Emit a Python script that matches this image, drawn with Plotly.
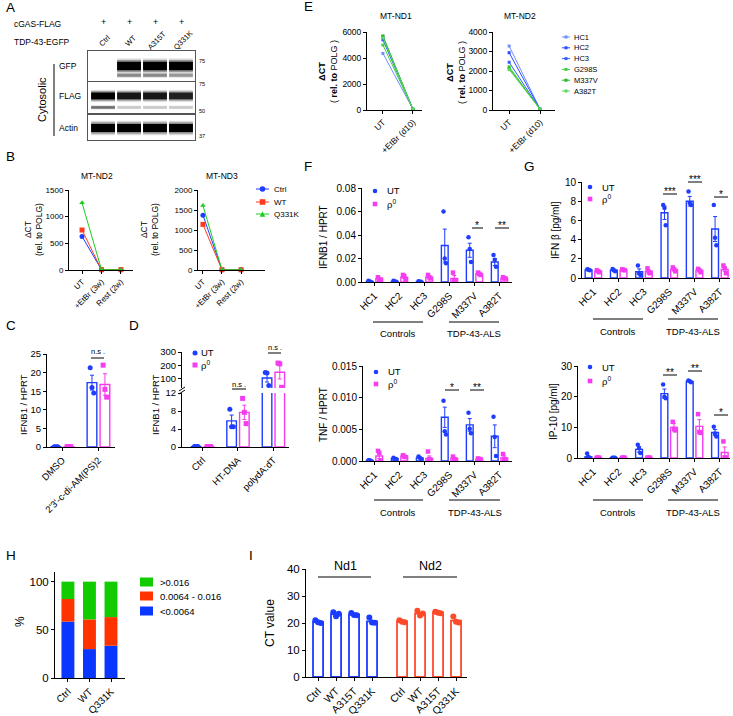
import plotly.graph_objects as go

W, H = 733, 716
FONT = "Liberation Sans"
BLUE = "#1f3dff"
MAG = "#f53cf0"
RED = "#ff3b1f"
GREEN = "#1fcc1f"

# ---------------- DATA ----------------
# A: western blot band intensities per lane
lanes = ["Ctrl", "WT", "A315T", "Q331K"]
mw_labels = ["75", "75", "50", "37"]
gfp_band = [0.0, 1.0, 1.0, 1.0]
gfp_faint = [0.0, 0.35, 0.35, 0.3]
flag_band = [1.0, 0.85, 0.85, 0.8]
flag_faint = [0.45, 0.15, 0.15, 0.15]
actin_band = [1.0, 1.0, 1.0, 1.0]

# B
b_x = ["UT", "+EtBr (3w)", "Rest (2w)"]
b_series = ["Ctrl", "WT", "Q331K"]
b_nd2 = [[630, 5, 5], [750, 5, 5], [1260, 5, 5]]
b_nd3 = [[1370, 5, 5], [1140, 5, 5], [1610, 5, 5]]

# C
c_cats = ["DMSO", "2'3'-c-di-AM(PS)2"]
c_ut_mean = [0.1, 17.3]
c_ut_sem = [0.05, 2.0]
c_ut_pts = [[0.1, 0.1, 0.1], [21.3, 16.0, 14.5]]
c_rho_mean = [0.1, 16.8]
c_rho_sem = [0.05, 2.9]
c_rho_pts = [[0.1, 0.1, 0.1], [22.0, 15.5, 13.4]]

# D
d_cats = ["Ctrl", "HT-DNA", "polydA:dT"]
d_ut_mean = [0.1, 5.8, 107]
d_ut_sem = [0.05, 1.3, 30]
d_ut_pts = [[0.1, 0.1, 0.1], [8.4, 4.5, 4.5], [148, 145, 52]]
d_rho_mean = [0.1, 7.7, 150]
d_rho_sem = [0.05, 1.6, 50]
d_rho_pts = [[0.1, 0.1, 0.1], [10.8, 7.7, 5.2], [218, 212, 38]]

# E
e_x = ["UT", "+EtBr (d10)"]
e_names = ["HC1", "HC2", "HC3", "G298S", "M337V", "A382T"]
e_nd1 = [[4350, 60], [5400, 50], [5650, 40], [5000, 60], [5700, 50], [5550, 40]]
e_nd2 = [[3280, 40], [2940, 30], [2450, 35], [2220, 40], [2140, 30], [2080, 35]]
e_colors = ["#6f8dff", "#2a4bff", "#3a5cff", "#3fcf3f", "#22b822", "#5ad85a"]

# F / G
fg_cats = ["HC1", "HC2", "HC3", "G298S", "M337V", "A382T"]
ft_ut_mean = [0.0005, 0.0006, 0.0004, 0.031, 0.027, 0.017]
ft_ut_sem = [0.0003, 0.0003, 0.0002, 0.014, 0.006, 0.003]
ft_ut_pts = [[0.001, 0.0005, 0.0], [0.001, 0.0005, 0.0003], [0.0007, 0.0003, 0.0002],
             [0.060, 0.020, 0.016], [0.038, 0.028, 0.017], [0.023, 0.019, 0.013]]
ft_rho_mean = [0.003, 0.004, 0.004, 0.003, 0.007, 0.003]
ft_rho_sem = [0.0007, 0.001, 0.001, 0.0025, 0.0006, 0.0004]
ft_rho_pts = [[0.004, 0.002, 0.002], [0.006, 0.005, 0.002], [0.006, 0.004, 0.003],
              [0.008, 0.001, 0.001], [0.008, 0.007, 0.006], [0.004, 0.003, 0.003]]

fb_ut_mean = [0.0001, 0.0004, 0.0005, 0.0069, 0.0057, 0.0039]
fb_ut_sem = [0.00005, 0.0001, 0.0001, 0.0016, 0.001, 0.0018]
fb_ut_pts = [[0.0001, 0.0001, 0.0], [0.0005, 0.0003, 0.0003], [0.0007, 0.0005, 0.0003],
             [0.0095, 0.0047, 0.0042], [0.0076, 0.0051, 0.0044], [0.0070, 0.0038, 0.0008]]
fb_rho_mean = [0.0008, 0.0008, 0.0004, 0.0004, 0.0003, 0.0005]
fb_rho_sem = [0.0004, 0.0001, 0.0004, 0.0001, 0.00005, 0.0003]
fb_rho_pts = [[0.0016, 0.0013, 0.0001], [0.0009, 0.0007, 0.0006], [0.0015, 0.0003, 0.0002],
              [0.0007, 0.0003, 0.0002], [0.0004, 0.0003, 0.0003], [0.0011, 0.0003, 0.0002]]

gt_ut_mean = [0.85, 0.8, 0.65, 6.8, 8.0, 5.1]
gt_ut_sem = [0.05, 0.1, 0.3, 0.7, 0.5, 1.3]
gt_ut_pts = [[0.9, 0.85, 0.8], [0.95, 0.8, 0.7], [1.3, 0.5, 0.3],
             [7.6, 7.3, 5.5], [9.0, 7.8, 7.6], [7.6, 4.2, 3.4]]
gt_rho_mean = [0.7, 0.85, 0.7, 0.9, 0.8, 0.9]
gt_rho_sem = [0.1, 0.05, 0.15, 0.1, 0.1, 0.2]
gt_rho_pts = [[0.8, 0.7, 0.6], [0.9, 0.85, 0.8], [1.0, 0.6, 0.5],
              [1.1, 0.9, 0.7], [0.95, 0.8, 0.6], [1.3, 1.0, 0.5]]

gb_ut_mean = [0.4, 0.1, 2.8, 21.0, 25.0, 8.3]
gb_ut_sem = [0.4, 0.05, 0.9, 1.5, 0.2, 1.0]
gb_ut_pts = [[1.5, 0.1, 0.0], [0.1, 0.1, 0.1], [4.3, 3.2, 1.6],
             [24.0, 20.0, 19.5], [25.3, 25.0, 24.7], [10.2, 8.0, 7.0]]
gb_rho_mean = [0.1, 0.1, 0.1, 10.0, 10.3, 1.8]
gb_rho_sem = [0.05, 0.05, 0.05, 1.2, 2.2, 1.8]
gb_rho_pts = [[0.1, 0.1, 0.1], [0.1, 0.1, 0.1], [0.1, 0.1, 0.1],
              [11.8, 9.5, 9.0], [14.3, 8.5, 8.2], [5.4, 0.2, 0.1]]

# H
h_cats = ["Ctrl", "WT", "Q331K"]
h_series = [">0.016", "0.0064 - 0.016", "<0.0064"]
h_low = [58.5, 30.0, 33.5]
h_mid = [23.5, 30.8, 29.7]
h_high = [18.0, 39.2, 36.8]

# I
i_groups = ["Nd1", "Nd2"]
i_nd1_mean = [20.4, 23.3, 23.2, 20.6]
i_nd1_pts = [[21.0, 20.3, 20.0], [24.0, 22.5, 23.4], [23.7, 23.0, 22.9], [22.0, 20.2, 20.1]]
i_nd2_mean = [20.6, 23.5, 23.9, 20.9]
i_nd2_pts = [[21.0, 20.5, 20.3], [24.5, 22.8, 23.5], [24.2, 23.8, 23.6], [22.4, 20.5, 20.2]]

# ---------------- BUILD ----------------
layout = {}
traces = []
ann = []
shapes = []


def PX(x):
    return x / W


def PY(y):
    return 1 - y / H


def axes(n, x0, x1, y0, y1, xkw, ykw):
    xn = 'xaxis' if n == 1 else f'xaxis{n}'
    yn = 'yaxis' if n == 1 else f'yaxis{n}'
    xr = 'x' if n == 1 else f'x{n}'
    yr = 'y' if n == 1 else f'y{n}'
    layout[xn] = dict(domain=[PX(x0), PX(x1)], anchor=yr, **xkw)
    layout[yn] = dict(domain=[PY(y1), PY(y0)], anchor=xr, **ykw)
    return xr, yr


def st(size=9, **kw):
    d = dict(showline=True, linecolor='black', linewidth=1, ticks='outside', ticklen=3,
             tickwidth=1, tickcolor='black', showgrid=False, zeroline=False, fixedrange=True,
             automargin=False, tickfont=dict(size=size, color='black', family=FONT))
    d.update(kw)
    return d


def txt(x, y, s, size=9, angle=0, xanchor='center', yanchor='middle', color='black'):
    ann.append(dict(x=PX(x), y=PY(y), xref='paper', yref='paper', text=s, showarrow=False,
                    font=dict(size=size, family=FONT, color=color), textangle=angle,
                    xanchor=xanchor, yanchor=yanchor, borderpad=0))


def seg(x0, y0, x1, y1, w=1.0, color='black'):
    shapes.append(dict(type='line', xref='paper', yref='paper', x0=PX(x0), x1=PX(x1),
                       y0=PY(y0), y1=PY(y1), line=dict(color=color, width=w)))


def hline(x0, x1, y, w=1.0, color='black'):
    seg(x0, y, x1, y, w, color)


def vline(x, y0, y1, w=1.0):
    seg(x, y0, x, y1, w)


def marker(x, y, symbol, color, r=2.5):
    if symbol == 'triangle-up':
        path = (f"M {PX(x - r)},{PY(y + r)} L {PX(x + r)},{PY(y + r)} "
                f"L {PX(x)},{PY(y - r)} Z")
        shapes.append(dict(type='path', xref='paper', yref='paper', path=path,
                           fillcolor=color, line=dict(width=0)))
    else:
        shapes.append(dict(type='circle' if symbol == 'circle' else 'rect', xref='paper',
                           yref='paper', x0=PX(x - r), x1=PX(x + r), y0=PY(y + r), y1=PY(y - r),
                           fillcolor=color, line=dict(width=0)))


def bar_set(xr, yr, xpos, means, sems, pts, color, width, offset, symbol, msize, spread, lw=1.4):
    xs = [p + offset for p in xpos]
    traces.append(go.Bar(x=xs, y=means, width=width, xaxis=xr, yaxis=yr,
                         marker=dict(color='rgba(255,255,255,0)', line=dict(color=color, width=lw)),
                         error_y=dict(type='data', array=sems, color=color, thickness=1, width=2),
                         hoverinfo='skip'))
    px, py = [], []
    for x, grp in zip(xs, pts):
        for j, v in enumerate(grp):
            px.append(x + spread * (j - 1))
            py.append(v)
    traces.append(go.Scatter(x=px, y=py, mode='markers', xaxis=xr, yaxis=yr, cliponaxis=True,
                             marker=dict(symbol=symbol, size=msize, color=color),
                             hoverinfo='skip'))


# ---- A: blot ----
BOX = dict(showline=True, mirror=True, linecolor='#555', linewidth=1, ticks='',
           showticklabels=False, showgrid=False, zeroline=False, fixedrange=True)
blots = [
    (51, 81, [(0.5, 0.28, gfp_band), (0.19, 0.1, gfp_faint)]),
    (82, 113, [(0.55, 0.22, flag_band), (0.18, 0.08, flag_faint)]),
    (115, 140, [(0.48, 0.32, actin_band)]),
]
for i, (top, bot, bands) in enumerate(blots):
    xr, yr = axes(i + 1, 88, 195, top, bot, dict(BOX, range=[-0.58, 3.54]), dict(BOX, range=[0, 1]))
    for center, thick, intens in bands:
        for scale, alpha in [(1.8, 0.15), (1.4, 0.35), (1.0, 1.0)]:
            th = thick * scale
            traces.append(go.Bar(x=list(range(len(lanes))), y=[th] * len(lanes),
                                 base=[center - th / 2] * len(lanes), width=0.92,
                                 marker=dict(color=[f'rgba(0,0,0,{alpha * v:.3f})' for v in intens],
                                             line=dict(width=0)),
                                 xaxis=xr, yaxis=yr, hoverinfo='skip'))

# ---- B ----
b_colors = [BLUE, RED, GREEN]
b_symbols = ['circle', 'square', 'triangle-up']
for n, (x0, x1, rng, yr_max, dtick, data) in enumerate([
        (69, 133, [-0.67, 2.62], 1500, 500, b_nd2),
        (198, 265, [-0.26, 3.26], 2000, 500, b_nd3)]):
    xr, yr = axes(4 + n, x0, x1, 190, 270,
                  st(8, range=rng, tickvals=[0, 1, 2], ticktext=b_x, tickangle=-45),
                  st(8, range=[0, yr_max], dtick=dtick))
    for vals, c, s in zip(data, b_colors, b_symbols):
        traces.append(go.Scatter(x=[0, 1, 2], y=vals, mode='lines+markers', xaxis=xr, yaxis=yr,
                                 cliponaxis=False, line=dict(color=c, width=1),
                                 marker=dict(symbol=s, size=5, color=c), hoverinfo='skip'))

# ---- C ----
xr, yr = axes(6, 47, 115, 354, 447,
              st(9.5, range=[-0.43, 1.46], tickvals=[0, 1], ticktext=c_cats, tickangle=-45),
              st(9.5, range=[0, 25], dtick=5))
bar_set(xr, yr, [0, 1], c_ut_mean, c_ut_sem, c_ut_pts, BLUE, 0.27, -0.18, 'circle', 5, 0.05)
bar_set(xr, yr, [0, 1], c_rho_mean, c_rho_sem, c_rho_pts, MAG, 0.27, 0.18, 'square', 5, 0.05)

# ---- D (broken axis) ----
xr, yr = axes(7, 182, 289, 393, 447,
              st(9.5, range=[-0.58, 2.44], tickvals=[0, 1, 2], ticktext=d_cats, tickangle=-45),
              st(9.5, range=[0, 12], tickvals=[0, 4, 8, 12]))
bar_set(xr, yr, [0, 1, 2], d_ut_mean, d_ut_sem, d_ut_pts, BLUE, 0.27, -0.18, 'circle', 5, 0.05)
bar_set(xr, yr, [0, 1, 2], d_rho_mean, d_rho_sem, d_rho_pts, MAG, 0.27, 0.18, 'square', 5, 0.05)
xr, yr = axes(8, 182, 289, 352, 388,
              dict(visible=False, range=[-0.58, 2.44], fixedrange=True),
              st(9.5, range=[33, 300], tickvals=[100, 200, 300]))
bar_set(xr, yr, [0, 1, 2], d_ut_mean, d_ut_sem, d_ut_pts, BLUE, 0.27, -0.18, 'circle', 5, 0.05)
bar_set(xr, yr, [0, 1, 2], d_rho_mean, d_rho_sem, d_rho_pts, MAG, 0.27, 0.18, 'square', 5, 0.05)

# ---- E ----
for n, (x0, x1, rng, ymax, dtick, data) in enumerate([
        (367, 422, [-0.53, 1.3], 6000, 2000, e_nd1),
        (493, 555, [-0.52, 1.48], 4000, 1000, e_nd2)]):
    xr, yr = axes(9 + n, x0, x1, 32, 110,
                  st(8.5, range=rng, tickvals=[0, 1], ticktext=e_x, tickangle=-45),
                  st(8.5, range=[0, ymax], dtick=dtick))
    for vals, c in zip(data, e_colors):
        traces.append(go.Scatter(x=[0, 1], y=vals, mode='lines+markers', xaxis=xr, yaxis=yr,
                                 cliponaxis=False, line=dict(color=c, width=1),
                                 marker=dict(symbol='square', size=3, color=c), hoverinfo='skip'))

# ---- F / G ----
idx6 = list(range(len(fg_cats)))
panels = [
    (11, 362, 512, 188, 282, [-0.5, 5.5], [0, 0.08], dict(dtick=0.02, tickformat='.2f'),
     ft_ut_mean, ft_ut_sem, ft_ut_pts, ft_rho_mean, ft_rho_sem, ft_rho_pts),
    (12, 363, 512, 366, 461, [-0.46, 5.5], [0, 0.015], dict(dtick=0.005, tickformat='.3f'),
     fb_ut_mean, fb_ut_sem, fb_ut_pts, fb_rho_mean, fb_rho_sem, fb_rho_pts),
    (13, 582, 730, 182, 278, [-0.45, 5.4], [0, 10], dict(dtick=2),
     gt_ut_mean, gt_ut_sem, gt_ut_pts, gt_rho_mean, gt_rho_sem, gt_rho_pts),
    (14, 578, 730, 366, 458, [-0.6, 5.4], [0, 30], dict(dtick=10),
     gb_ut_mean, gb_ut_sem, gb_ut_pts, gb_rho_mean, gb_rho_sem, gb_rho_pts),
]
for (n, x0, x1, y0, y1, xrng, yrng, ykw, um, us, up, rm, rs, rp) in panels:
    xr, yr = axes(n, x0, x1, y0, y1,
                  st(10, range=xrng, tickvals=idx6, ticktext=fg_cats, tickangle=-45),
                  st(10, range=yrng, **ykw))
    bar_set(xr, yr, idx6, um, us, up, BLUE, 0.27, -0.19, 'circle', 4.5, 0.05)
    bar_set(xr, yr, idx6, rm, rs, rp, MAG, 0.27, 0.19, 'square', 4.5, 0.05)

# ---- H ----
xr, yr = axes(15, 55, 125, 572, 678,
              dict(st(11.5, range=[-0.6, 2.65], tickvals=[0, 1, 2], ticktext=h_cats, tickangle=-45),
                   tickfont=dict(size=10, color='black', family=FONT)),
              st(11.5, range=[0, 110], tickvals=[0, 50, 100]))
h_colors = ["#13cc00", "#ff3300", "#0a37ff"]
base_mid = h_low
base_high = [a + b for a, b in zip(h_low, h_mid)]
for vals, base, c in [(h_low, [0, 0, 0], h_colors[2]), (h_mid, base_mid, h_colors[1]),
                      (h_high, base_high, h_colors[0])]:
    traces.append(go.Bar(x=[0, 1, 2], y=vals, base=base, width=0.6, xaxis=xr, yaxis=yr,
                         marker=dict(color=c, line=dict(width=0)), hoverinfo='skip'))

# ---- I ----
GAP = 4.67
pos1 = [0, 1, 2, 3]
pos2 = [p + GAP for p in pos1]
xr, yr = axes(16, 306, 467, 569, 677,
              dict(st(11.5, range=[-0.67, 8.28], tickvals=pos1 + pos2, ticktext=lanes + lanes,
                      tickangle=-45),
                   tickfont=dict(size=10.5, color='black', family=FONT)),
              st(11.5, range=[0, 40], dtick=10))
I_BLUE = "#1a3cff"
I_RED = "#ff4a2a"
bar_set(xr, yr, pos1, i_nd1_mean, [0.3] * 4, i_nd1_pts, I_BLUE, 0.56, 0, 'circle', 6, 0.15, 1.8)
bar_set(xr, yr, pos2, i_nd2_mean, [0.3] * 4, i_nd2_pts, I_RED, 0.56, 0, 'circle', 6, 0.15, 1.8)

# ---- annotations ----
for L, x, y in [("A", 5, 8), ("B", 5, 157), ("C", 5, 325), ("D", 128, 325), ("E", 303, 7),
                ("F", 303, 167), ("G", 523, 167), ("H", 5, 555), ("I", 248, 555)]:
    txt(x, y, L, 13.5, xanchor='left')

# A texts
txt(13, 24, "cGAS-FLAG", 8.5, xanchor='left')
txt(13, 42, "TDP-43-EGFP", 8.5, xanchor='left')
for i, l in enumerate(lanes):
    lx = 103 + 26 * i
    txt(lx, 22, "+", 9)
    txt(lx + 2, 41, l, 7.5, angle=-45)
txt(58, 66, "GFP", 8.5, xanchor='left')
txt(58, 96, "FLAG", 8.5, xanchor='left')
txt(58, 128, "Actin", 8.5, xanchor='left')
txt(42, 100, "Cytosolic", 11, angle=-90)
vline(54, 64, 136)
for lab, y in zip(mw_labels, [61, 84, 111, 136]):
    txt(198, y, lab, 5.5, xanchor='left')

# B texts
txt(97, 176, "MT-ND2", 8.5)
txt(222, 176, "MT-ND3", 8.5)
txt(34, 230, "ΔCT<br>(rel. to POLG)", 8.5, angle=-90)
txt(150, 230, "ΔCT<br>(rel. to POLG)", 8.5, angle=-90)
for (nm, c, s), y in zip(zip(b_series, b_colors, b_symbols), [189, 202, 214]):
    hline(256, 269, y, 1, c)
    marker(262.5, y, s, c, 2.8)
    txt(273, y, nm, 8, xanchor='left')

# C / D texts
txt(23, 405, "IFNB1 / HPRT", 9.5, angle=-90)
txt(155, 405, "IFNB1 / HPRT", 9.5, angle=-90)
txt(98, 352, "n.s .", 7.5)
hline(91, 104, 358)
txt(239, 384, "n.s .", 7.5)
hline(232, 246, 389)
txt(275, 347, "n.s .", 7.5)
hline(268, 281, 353)
marker(195, 353, 'circle', BLUE, 2.5)
txt(200, 353, "UT", 9.5, xanchor='left')
marker(195, 365, 'square', MAG, 2.5)
txt(200, 365, "ρ<sup>0</sup>", 9.5, xanchor='left')
seg(179, 391, 185, 387)
seg(179, 394, 185, 390)

# E texts
txt(396, 16, "MT-ND1", 8.5)
txt(520, 16, "MT-ND2", 8.5)
e_lab = "<b>ΔCT</b><br>( <b>rel. to</b> POLG )"
txt(328, 72, e_lab, 9, angle=-90)
txt(456, 72, e_lab, 9, angle=-90)
for i, (nm, c) in enumerate(zip(e_names, e_colors)):
    y = 37 + 10.8 * i
    hline(562, 570, y, 1, c)
    marker(566, y, 'square', c, 1.5)
    txt(573, y, nm, 7.5, xanchor='left')

# F / G texts
txt(323, 237, "IFNB1 / HPRT", 10, angle=-90)
txt(323, 415, "TNF / HPRT", 10, angle=-90)
txt(556, 230, "IFN β [pg/ml]", 10, angle=-90)
txt(553, 412, "IP-10 [pg/ml]", 10, angle=-90)
for lx, ys in [(375, (191, 204)), (376, (372, 384)), (590, (187, 199)), (590, (367, 381))]:
    marker(lx, ys[0], 'circle', BLUE, 2.3)
    txt(lx + 11, ys[0], "UT", 9.5, xanchor='left')
    marker(lx, ys[1], 'square', MAG, 2.3)
    txt(lx + 11, ys[1], "ρ<sup>0</sup>", 9.5, xanchor='left')

for (c0, c1, t0, t1, ly, ty) in [(373, 423, 449, 499, 322, 334), (593, 643, 668, 718, 319, 331),
                                 (374, 423, 449, 500, 500, 512), (593, 643, 668, 718, 500, 512)]:
    hline(c0, c1, ly)
    hline(t0, t1, ly)
    txt((c0 + c1) / 2, ty, "Controls", 9.5)
    txt((t0 + t1) / 2, ty, "TDP-43-ALS", 9.5)

for (s, x, x0, x1, ly) in [("*", 477, 472, 483, 228), ("**", 502, 495, 509, 228),
                           ("*", 452, 445, 459, 390), ("**", 477, 470, 484, 390),
                           ("***", 670, 663, 677, 194), ("***", 695, 688, 702, 182),
                           ("*", 721, 714, 728, 197),
                           ("**", 670, 663, 677, 375), ("**", 695, 688, 702, 371),
                           ("*", 721, 714, 728, 415)]:
    hline(x0, x1, ly)
    txt(x, ly + 4, s, 10, yanchor='bottom')

# H texts
txt(20, 622, "%", 12, angle=-90)
for nm, c, y in zip(h_series, h_colors, [582, 596, 611]):
    shapes.append(dict(type='rect', xref='paper', yref='paper', x0=PX(140), x1=PX(153),
                       y0=PY(y + 4.5), y1=PY(y - 4.5), fillcolor=c, line=dict(width=0)))
    txt(159, y, nm, 9.5, xanchor='left')

# I texts
txt(270, 623, "CT value", 12, angle=-90)
txt(345, 566, "Nd1", 12.5)
hline(318, 371, 577)
txt(430, 566, "Nd2", 12.5)
hline(403, 457, 577)

fig = go.Figure(data=traces)
fig.update_layout(**layout)
fig.update_layout(width=W, height=H, margin=dict(l=0, r=0, t=0, b=0, pad=0), showlegend=False,
                  barmode='overlay', paper_bgcolor='white', plot_bgcolor='rgba(0,0,0,0)',
                  font=dict(family=FONT, color='black'), annotations=ann, shapes=shapes)
fig.write_html("out.html", config={'displayModeBar': False},
               post_script="document.body.style.margin='0';")
